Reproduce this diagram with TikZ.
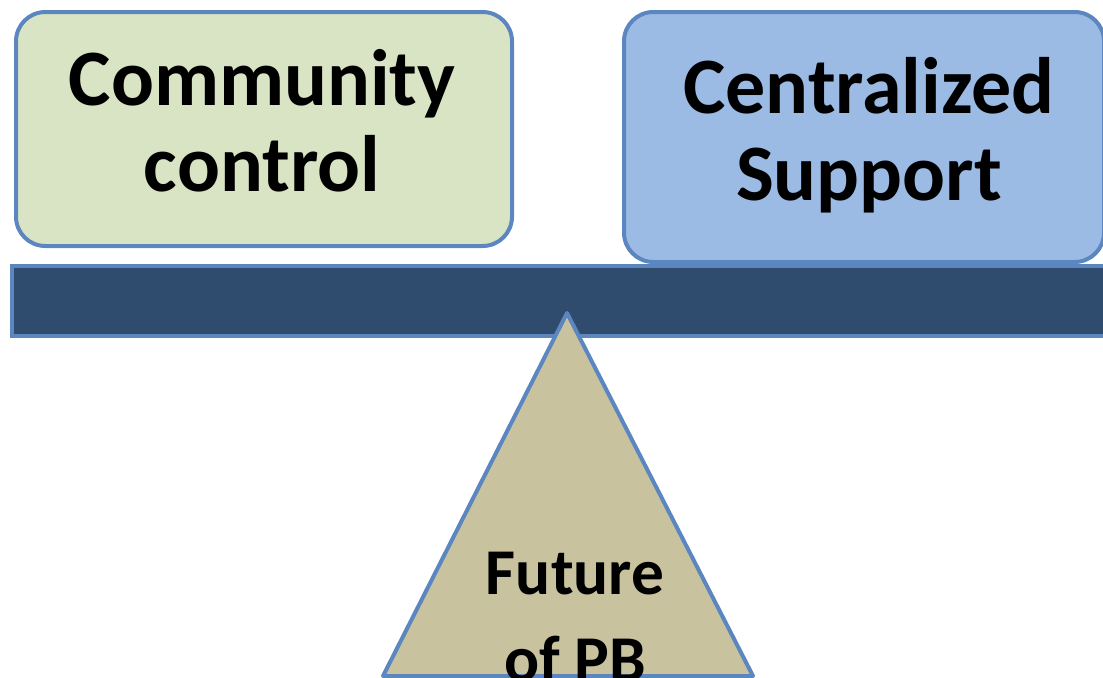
\documentclass[tikz,border=0pt]{standalone}
\usepackage{fontspec}
\setmainfont{Carlito}
\definecolor{edgeblue}{HTML}{5B86C0}
\definecolor{greenfill}{HTML}{D8E4C3}
\definecolor{bluefill}{HTML}{9BBBE5}
\definecolor{barfill}{HTML}{2F4B6E}
\definecolor{tanfill}{HTML}{C8C29F}
\tikzset{
  box/.style={draw=edgeblue, line width=3pt, rounded corners=22pt, inner sep=0pt, anchor=north west},
  bigtext/.style={font=\bfseries\fontsize{60}{65}\selectfont, align=center, inner sep=0pt},
  smalltext/.style={font=\bfseries\fontsize{49}{65}\selectfont, align=center, inner sep=0pt}
}
\begin{document}
\begin{tikzpicture}[x=0.75pt,y=-0.75pt]
\useasboundingbox (0,0) rectangle (1103,678);
\clip (0,0) rectangle (1103,678);
\node[box, fill=greenfill, minimum width=372pt, minimum height=175.5pt] (left) at (14,10) {};
\node[box, fill=bluefill, minimum width=360pt, minimum height=187.5pt] (right) at (622,10) {};
\node[draw=edgeblue, line width=3pt, fill=barfill, inner sep=0pt, minimum width=900pt, minimum height=52.5pt, anchor=north west] (bar) at (10,264) {};
\draw[draw=edgeblue, line width=3pt, fill=tanfill, line join=round] (567,313) -- (753,676) -- (383,676) -- cycle;
\node[bigtext, anchor=base] (lt1) at (262,105) {Community};
\node[bigtext, anchor=base] (lt2) at (262,191) {control};
\node[bigtext, anchor=base] (rt1) at (869,113) {Centralized};
\node[bigtext, anchor=base] (rt2) at (869,200) {Support};
\node[smalltext, anchor=base] (tt1) at (575,594) {Future};
\node[smalltext, anchor=base] (tt2) at (575,681) {of PB};
\end{tikzpicture}
\end{document}
